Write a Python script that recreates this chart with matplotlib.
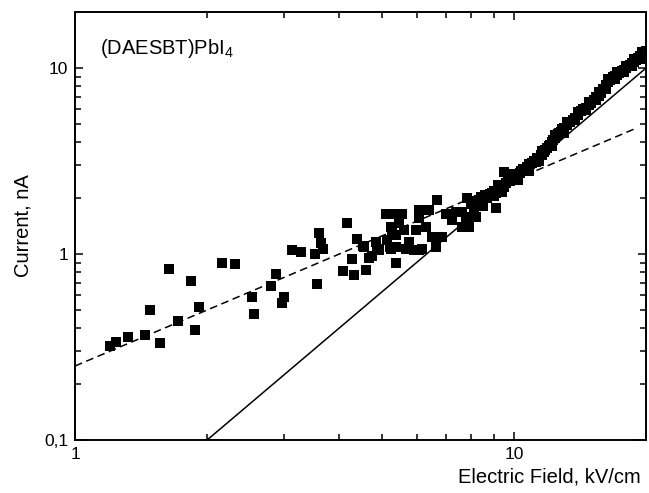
import matplotlib
matplotlib.use("Agg")
import matplotlib.pyplot as plt
from matplotlib.ticker import FixedLocator, FixedFormatter, NullFormatter
import numpy as np

plt.rcParams['font.family'] = ['Liberation Sans', 'DejaVu Sans']

# scattered low-field points (kV/cm, nA)
low_field = [1.20, 1.24, 1.32, 1.44, 1.48, 1.56, 1.64, 1.72, 1.84, 1.88, 1.92,
             2.16, 2.32, 2.53, 2.56, 2.80, 2.87, 2.96, 2.99, 3.12, 3.28, 3.52, 3.56]
low_current = [0.320, 0.335, 0.358, 0.368, 0.498, 0.331, 0.828, 0.437, 0.718, 0.390, 0.521,
               0.898, 0.883, 0.588, 0.475, 0.670, 0.778, 0.543, 0.590, 1.05, 1.02, 0.995, 0.687]

# middle region, still noisy
mid_field = [3.60, 3.64, 3.67, 4.16, 4.40, 4.28, 4.09, 4.32, 4.60, 4.68, 4.76, 4.56,
             4.86, 4.93, 5.15, 5.25, 5.11, 5.34, 5.25, 5.39, 5.39, 5.56, 5.48, 5.28,
             5.62, 5.77, 5.39, 5.93, 6.18, 6.64, 6.69, 6.08, 6.39, 6.08, 6.30, 6.52,
             6.87, 6.99, 7.24, 7.37, 7.63, 7.83, 7.90, 8.18, 7.77, 8.33, 8.62, 9.08,
             8.93, 9.40, 9.49, 4.52, 4.88, 5.21, 5.67, 6.08, 5.98, 7.24, 7.63, 7.90, 8.33]
mid_current = [1.29, 1.14, 1.06, 1.47, 1.21, 0.937, 0.813, 0.771, 0.820, 0.948, 0.975, 1.09,
               1.16, 1.05, 1.19, 1.07, 1.65, 1.65, 1.40, 1.27, 0.891, 1.65, 1.46, 1.32,
               1.35, 1.16, 1.09, 1.05, 1.07, 1.09, 1.95, 1.72, 1.72, 1.56, 1.40, 1.24,
               1.24, 1.65, 1.52, 1.69, 1.40, 1.99, 1.40, 1.59, 1.59, 1.87, 2.03, 1.76,
               2.12, 2.21, 2.76, 1.10, 1.07, 1.09, 1.06, 1.05, 1.35, 1.59, 1.69, 1.52, 1.95]

# dense high-field band
band_field = [8.0, 8.1, 8.2, 8.3, 8.4, 8.5, 8.6, 8.7, 8.8, 8.9, 9.0, 9.1, 9.2, 9.3, 9.4,
              9.5, 9.6, 9.7, 9.8, 9.9, 10.0, 10.1, 10.2, 10.3, 10.4, 10.5, 10.6, 10.7,
              10.8, 10.9, 11.0, 11.1, 11.2, 11.3, 11.4, 11.5, 11.6, 11.7, 11.8, 11.9,
              12.0, 12.1, 12.2, 12.3, 12.4, 12.5, 12.6, 12.7, 12.8, 12.9, 13.0, 13.2,
              13.4, 13.6, 13.8, 14.0, 14.2, 14.4, 14.6, 14.8, 15.0, 15.2, 15.4, 15.6,
              15.8, 16.0, 16.2, 16.4, 16.6, 16.8, 17.0, 17.2, 17.4, 17.6, 17.8, 18.0,
              18.2, 18.4, 18.6, 18.8, 19.0, 19.2, 19.4, 19.6, 19.8,
              8.1, 8.5, 9.0, 9.4, 10.2, 10.8, 11.4, 12.2, 13.0, 13.8, 14.6, 15.4,
              16.2, 17.0, 17.8, 18.6, 19.4,
              9.2, 10.0, 10.8, 11.6, 12.4, 13.2, 14.0, 14.8, 15.6, 16.4, 17.2, 18.0,
              18.8, 19.6, 20.0]
band_current = [1.86, 1.80, 1.93, 1.88, 2.02, 1.95, 2.08, 2.00, 2.10, 2.05, 2.18, 2.12,
                2.25, 2.20, 2.33, 2.28, 2.42, 2.50, 2.48, 2.58, 2.55, 2.66, 2.62, 2.74,
                2.78, 2.85, 2.82, 2.95, 2.92, 3.05, 3.08, 3.16, 3.12, 3.28, 3.30, 3.42,
                3.40, 3.55, 3.62, 3.70, 3.80, 3.86, 4.02, 4.10, 4.20, 4.32, 4.40, 4.48,
                4.55, 4.70, 4.75, 4.92, 5.10, 5.28, 5.42, 5.60, 5.85, 6.00, 6.12, 6.35,
                6.50, 6.70, 6.95, 7.10, 7.35, 7.70, 8.10, 8.40, 8.60, 8.90, 9.05, 9.20,
                9.45, 9.60, 9.80, 10.0, 10.2, 10.4, 10.6, 10.8, 11.0, 11.3, 11.6, 11.8,
                12.0,
                1.70, 1.82, 2.05, 2.15, 2.50, 2.78, 3.15, 3.80, 4.50, 5.25, 5.95, 6.70,
                7.70, 8.70, 9.50, 10.3, 11.2,
                2.35, 2.70, 3.05, 3.60, 4.35, 5.10, 5.80, 6.60, 7.40, 8.70, 9.55, 10.3,
                11.2, 12.2, 12.4]

# power-law fits: I = a * E**n
ohmic_a, ohmic_n, ohmic_range = 0.25, 1.0, [1.0, 19.0]
sclc_a, sclc_n, sclc_range = 0.025, 2.0, [2.0, 20.0]

fig = plt.figure(figsize=(6.49, 4.93), dpi=100)
ax = fig.add_axes([0.1156, 0.1075, 0.8798, 0.868])

field = low_field + mid_field + band_field
current = low_current + mid_current + band_current
ax.plot(field, current, 's', color='black', markersize=7.5, markeredgewidth=0)

ex = np.array(ohmic_range)
ax.plot(ex, ohmic_a * ex ** ohmic_n, color='black', lw=1.1, linestyle=(0, (5, 3)))
ex = np.array(sclc_range)
ax.plot(ex, sclc_a * ex ** sclc_n, color='black', lw=1.1)

ax.set_xscale('log')
ax.set_yscale('log')
ax.set_xlim(1, 20)
ax.set_ylim(0.1, 20)

ax.xaxis.set_major_locator(FixedLocator([1, 10]))
ax.xaxis.set_major_formatter(FixedFormatter(['1', '10']))
ax.xaxis.set_minor_locator(FixedLocator([2, 3, 4, 5, 6, 7, 8, 9, 20]))
ax.xaxis.set_minor_formatter(NullFormatter())
ax.yaxis.set_major_locator(FixedLocator([0.1, 1, 10]))
ax.yaxis.set_major_formatter(FixedFormatter(['0,1', '1', '10']))
ax.yaxis.set_minor_locator(FixedLocator([0.2, 0.3, 0.4, 0.5, 0.6, 0.7, 0.8, 0.9,
                                         2, 3, 4, 5, 6, 7, 8, 9]))
ax.yaxis.set_minor_formatter(NullFormatter())

ax.tick_params(which='both', direction='in', top=True, right=True, width=1.1,
               labelsize=12.5, pad=5)
ax.tick_params(which='major', length=6)
ax.tick_params(which='minor', length=4)
for sp in ax.spines.values():
    sp.set_linewidth(1.4)

ax.set_xlabel('Electric Field, kV/cm', fontsize=14.5, ha='right')
ax.xaxis.set_label_coords(0.99, -0.065)
ax.set_ylabel('Current, nA', fontsize=14.5, labelpad=8)
ax.text(0.044, 0.916, r'(DAESBT)PbI$_\mathregular{4}$', transform=ax.transAxes,
        fontsize=14.5, va='center', ha='left')

fig.savefig('out.png', dpi=100)
